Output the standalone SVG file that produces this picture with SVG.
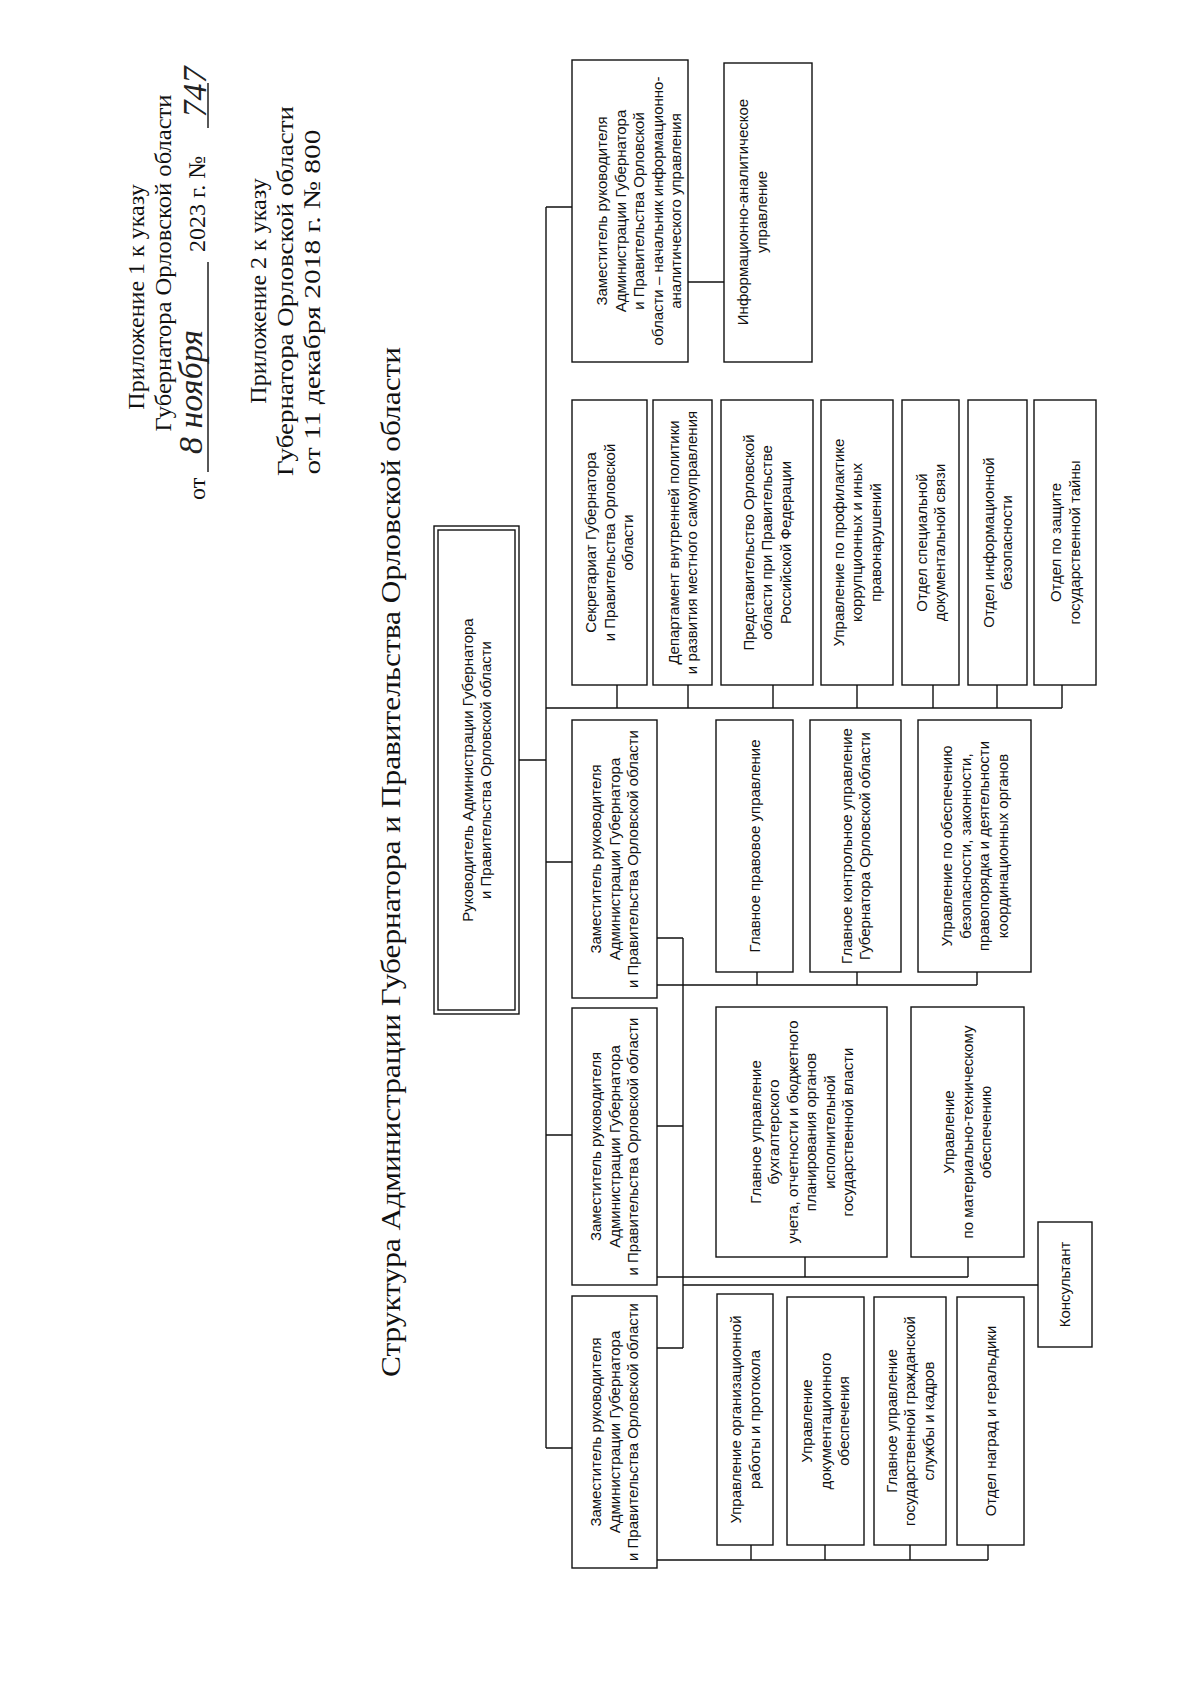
<svg xmlns="http://www.w3.org/2000/svg" width="1200" height="1701" viewBox="0 0 1200 1701">
<style>
.box{fill:#fff;stroke:#111;stroke-width:1.4}
.ln{fill:none;stroke:#111;stroke-width:1.4}
.t{font-family:"Liberation Sans",Arial,sans-serif;font-size:15px;fill:#111;text-anchor:middle}
.h{font-family:"Liberation Serif","Times New Roman",serif;font-size:24px;fill:#111}
.ttl{font-family:"Liberation Serif","Times New Roman",serif;font-size:27px;fill:#111;text-anchor:middle}
.hw{font-family:"Liberation Serif","Times New Roman",serif;font-style:italic;font-size:34px;fill:#222}
</style>
<rect width="1200" height="1701" fill="#fff"/>
<g id="header">
<text class="h" text-anchor="middle" transform="translate(144,297) rotate(-90)">Приложение 1 к указу</text>
<text class="h" text-anchor="middle" textLength="337" lengthAdjust="spacingAndGlyphs" transform="translate(171,263) rotate(-90)">Губернатора Орловской области</text>
<text class="h" text-anchor="start" transform="translate(205,500) rotate(-90)">от</text>
<text class="h" text-anchor="start" transform="translate(205,252) rotate(-90)">2023 г. №</text>
<path class="ln" d="M208 472V262M208 128V83"/>
<text class="hw" text-anchor="middle" transform="translate(202,392) rotate(-90)">8 ноября</text>
<text class="hw" text-anchor="middle" font-size="44" transform="translate(206,92) rotate(-90)">747</text>
<text class="h" text-anchor="middle" transform="translate(266,291) rotate(-90)">Приложение 2 к указу</text>
<text class="h" text-anchor="middle" textLength="370" lengthAdjust="spacingAndGlyphs" transform="translate(293,291) rotate(-90)">Губернатора Орловской области</text>
<text class="h" text-anchor="middle" textLength="345" lengthAdjust="spacingAndGlyphs" transform="translate(320,302) rotate(-90)">от 11 декабря 2018 г. № 800</text>
</g>
<g id="title">
<text class="ttl" textLength="1030" lengthAdjust="spacingAndGlyphs" transform="translate(400,862) rotate(-90)">Структура Администрации Губернатора и Правительства Орловской области</text>
</g>
<g id="connectors">
<path class="ln" d="M546 207V1448M546 207H572M519 760H546M546 708H1062M617 685V708M688 685V708M773 685V708M857 685V708M933 685V708M997 685V708M1062 685V708M546 862H572M546 1135H572M546 1448H572M688 282H724"/>
<path class="ln" d="M683 938V1348M657 938H683M657 1126H683M657 1348H683M683 1285H1038"/>
<path class="ln" d="M657 985H977M757 972V985M857 972V985M977 972V985"/>
<path class="ln" d="M657 1277H968M805 1257V1277M968 1257V1277"/>
<path class="ln" d="M657 1560H988M751 1545V1560M825 1545V1560M910 1545V1560M988 1545V1560"/>
</g>
<g id="head">
<rect class="box" x="434" y="526" width="85" height="488"/>
<rect class="box" x="438" y="530" width="77" height="480"/>
<text class="t" font-size="14" transform="translate(476.5,770) rotate(-90)"><tspan x="0" y="-4">Руководитель Администрации Губернатора</tspan><tspan x="0" y="14">и Правительства Орловской области</tspan></text>
</g>
<g id="dep-info">
<rect class="box" x="572" y="60" width="116" height="302"/>
<text class="t" transform="translate(639,211) rotate(-90)"><tspan x="0" y="-31.75">Заместитель руководителя</tspan><tspan x="0" y="-13.25">Администрации Губернатора</tspan><tspan x="0" y="5.25">и Правительства Орловской</tspan><tspan x="0" y="23.75">области – начальник информационно-</tspan><tspan x="0" y="42.25">аналитического управления</tspan></text>
</g>
<g id="info-upr">
<rect class="box" x="724" y="63" width="88" height="299"/>
<text class="t" transform="translate(752,212) rotate(-90)"><tspan x="0" y="-4">Информационно-аналитическое</tspan><tspan x="0" y="14.5">управление</tspan></text>
</g>
<g id="secretariat">
<rect class="box" x="572" y="400" width="75" height="285"/>
<text class="t" transform="translate(609.5,542.5) rotate(-90)"><tspan x="0" y="-13.25">Секретариат Губернатора</tspan><tspan x="0" y="5.25">и Правительства Орловской</tspan><tspan x="0" y="23.75">области</tspan></text>
</g>
<g id="dep-vnutr">
<rect class="box" x="653" y="400" width="59" height="285"/>
<text class="t" transform="translate(682.5,542.5) rotate(-90)"><tspan x="0" y="-4">Департамент внутренней политики</tspan><tspan x="0" y="14.5">и развития местного самоуправления</tspan></text>
</g>
<g id="predstav">
<rect class="box" x="721" y="400" width="92" height="285"/>
<text class="t" transform="translate(767,542.5) rotate(-90)"><tspan x="0" y="-13.25">Представительство Орловской</tspan><tspan x="0" y="5.25">области при Правительстве</tspan><tspan x="0" y="23.75">Российской Федерации</tspan></text>
</g>
<g id="korrup">
<rect class="box" x="821" y="400" width="72" height="285"/>
<text class="t" transform="translate(857,542.5) rotate(-90)"><tspan x="0" y="-13.25">Управление по профилактике</tspan><tspan x="0" y="5.25">коррупционных и иных</tspan><tspan x="0" y="23.75">правонарушений</tspan></text>
</g>
<g id="spec-svyaz">
<rect class="box" x="902" y="400" width="57" height="285"/>
<text class="t" transform="translate(930.5,542.5) rotate(-90)"><tspan x="0" y="-4">Отдел специальной</tspan><tspan x="0" y="14.5">документальной связи</tspan></text>
</g>
<g id="infobez">
<rect class="box" x="968" y="400" width="59" height="285"/>
<text class="t" transform="translate(997.5,542.5) rotate(-90)"><tspan x="0" y="-4">Отдел информационной</tspan><tspan x="0" y="14.5">безопасности</tspan></text>
</g>
<g id="gostayna">
<rect class="box" x="1034" y="400" width="62" height="285"/>
<text class="t" transform="translate(1065,542.5) rotate(-90)"><tspan x="0" y="-4">Отдел по защите</tspan><tspan x="0" y="14.5">государственной тайны</tspan></text>
</g>
<g id="dep3">
<rect class="box" x="572" y="720" width="85" height="278"/>
<text class="t" transform="translate(614.5,859) rotate(-90)"><tspan x="0" y="-13.25">Заместитель руководителя</tspan><tspan x="0" y="5.25">Администрации Губернатора</tspan><tspan x="0" y="23.75">и Правительства Орловской области</tspan></text>
</g>
<g id="pravovoe">
<rect class="box" x="716" y="720" width="77" height="252"/>
<text class="t" transform="translate(754.5,846) rotate(-90)"><tspan x="0" y="5">Главное правовое управление</tspan></text>
</g>
<g id="kontrol">
<rect class="box" x="810" y="720" width="91" height="252"/>
<text class="t" transform="translate(855.5,846) rotate(-90)"><tspan x="0" y="-4">Главное контрольное управление</tspan><tspan x="0" y="14.5">Губернатора Орловской области</tspan></text>
</g>
<g id="bezopas">
<rect class="box" x="918" y="720" width="113" height="252"/>
<text class="t" transform="translate(974.5,846) rotate(-90)"><tspan x="0" y="-22.5">Управление по обеспечению</tspan><tspan x="0" y="-4">безопасности, законности,</tspan><tspan x="0" y="14.5">правопорядка и деятельности</tspan><tspan x="0" y="33">координационных органов</tspan></text>
</g>
<g id="dep2">
<rect class="box" x="572" y="1008" width="85" height="277"/>
<text class="t" transform="translate(614.5,1146.5) rotate(-90)"><tspan x="0" y="-13.25">Заместитель руководителя</tspan><tspan x="0" y="5.25">Администрации Губернатора</tspan><tspan x="0" y="23.75">и Правительства Орловской области</tspan></text>
</g>
<g id="buhgalter">
<rect class="box" x="716" y="1007" width="171" height="250"/>
<text class="t" transform="translate(801.5,1132) rotate(-90)"><tspan x="0" y="-41">Главное управление</tspan><tspan x="0" y="-22.5">бухгалтерского</tspan><tspan x="0" y="-4">учета, отчетности и бюджетного</tspan><tspan x="0" y="14.5">планирования органов</tspan><tspan x="0" y="33">исполнительной</tspan><tspan x="0" y="51.5">государственной власти</tspan></text>
</g>
<g id="mto">
<rect class="box" x="911" y="1007" width="113" height="250"/>
<text class="t" transform="translate(967.5,1132) rotate(-90)"><tspan x="0" y="-13.25">Управление</tspan><tspan x="0" y="5.25">по материально-техническому</tspan><tspan x="0" y="23.75">обеспечению</tspan></text>
</g>
<g id="konsultant">
<rect class="box" x="1038" y="1222" width="54" height="125"/>
<text class="t" transform="translate(1065,1284.5) rotate(-90)"><tspan x="0" y="5">Консультант</tspan></text>
</g>
<g id="dep1">
<rect class="box" x="572" y="1296" width="85" height="272"/>
<text class="t" transform="translate(614.5,1432) rotate(-90)"><tspan x="0" y="-13.25">Заместитель руководителя</tspan><tspan x="0" y="5.25">Администрации Губернатора</tspan><tspan x="0" y="23.75">и Правительства Орловской области</tspan></text>
</g>
<g id="orgrab">
<rect class="box" x="717" y="1294" width="56" height="251"/>
<text class="t" transform="translate(745,1419.5) rotate(-90)"><tspan x="0" y="-4">Управление организационной</tspan><tspan x="0" y="14.5">работы и протокола</tspan></text>
</g>
<g id="dokum">
<rect class="box" x="787" y="1297" width="77" height="248"/>
<text class="t" transform="translate(825.5,1421) rotate(-90)"><tspan x="0" y="-13.25">Управление</tspan><tspan x="0" y="5.25">документационного</tspan><tspan x="0" y="23.75">обеспечения</tspan></text>
</g>
<g id="kadry">
<rect class="box" x="874" y="1297" width="72" height="248"/>
<text class="t" transform="translate(910,1421) rotate(-90)"><tspan x="0" y="-13.25">Главное управление</tspan><tspan x="0" y="5.25">государственной гражданской</tspan><tspan x="0" y="23.75">службы и кадров</tspan></text>
</g>
<g id="nagrady">
<rect class="box" x="957" y="1297" width="67" height="248"/>
<text class="t" transform="translate(990.5,1421) rotate(-90)"><tspan x="0" y="5">Отдел наград и геральдики</tspan></text>
</g>
</svg>
